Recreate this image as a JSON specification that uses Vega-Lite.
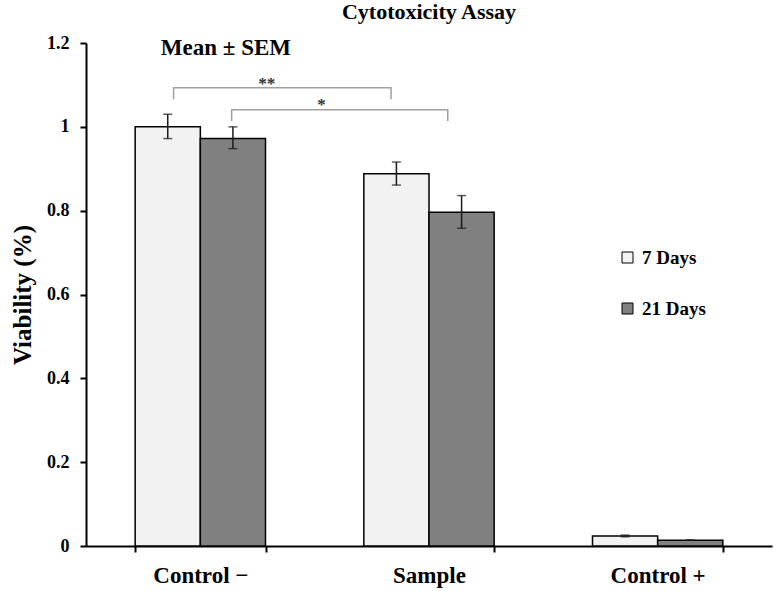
{
  "$schema": "https://vega.github.io/schema/vega-lite/v6.json",
  "width": 686,
  "height": 503,
  "autosize": {"type": "none"},
  "padding": {"left": 86, "top": 43, "right": 2, "bottom": 45},
  "background": "white",
  "title": {"text": "Cytotoxicity Assay", "font": "Liberation Serif", "fontSize": 22, "fontWeight": "bold", "color": "black", "anchor": "middle", "offset": 10},
  "config": {
    "view": {"stroke": null},
    "axis": {"grid": false, "domainColor": "black", "tickColor": "black", "labelColor": "black", "titleColor": "black", "labelFont": "Liberation Serif", "titleFont": "Liberation Serif", "labelFontWeight": "bold", "titleFontWeight": "bold"}
  },
  "datasets": {
    "bars": [
      {"group": "Control −", "series": "7 Days", "value": 1.0, "lo": 0.972, "hi": 1.03},
      {"group": "Control −", "series": "21 Days", "value": 0.972, "lo": 0.948, "hi": 1.0},
      {"group": "Sample", "series": "7 Days", "value": 0.888, "lo": 0.861, "hi": 0.916},
      {"group": "Sample", "series": "21 Days", "value": 0.796, "lo": 0.758, "hi": 0.836},
      {"group": "Control +", "series": "7 Days", "value": 0.024, "lo": 0.022, "hi": 0.026},
      {"group": "Control +", "series": "21 Days", "value": 0.014, "lo": 0.014, "hi": 0.014}
    ],
    "brackets": [
      {"b": "p1", "o": 1, "x": 0.383, "y": 1.066},
      {"b": "p1", "o": 2, "x": 0.383, "y": 1.093},
      {"b": "p1", "o": 3, "x": 1.334, "y": 1.093},
      {"b": "p1", "o": 4, "x": 1.334, "y": 1.066},
      {"b": "p2", "o": 1, "x": 0.637, "y": 1.014},
      {"b": "p2", "o": 2, "x": 0.637, "y": 1.041},
      {"b": "p2", "o": 3, "x": 1.582, "y": 1.041},
      {"b": "p2", "o": 4, "x": 1.582, "y": 1.014}
    ],
    "stars": [
      {"t": "**", "x": 0.79, "y": 1.103},
      {"t": "*", "x": 1.03, "y": 1.051}
    ],
    "note": [
      {"t": "Mean ± SEM", "x": 0.612, "y": 1.187}
    ]
  },
  "layer": [
    {
      "data": {"name": "bars"},
      "encoding": {
        "x": {
          "field": "group", "type": "nominal", "sort": ["Control −", "Sample", "Control +"],
          "scale": {"paddingInner": 0.43, "paddingOuter": 0.215},
          "axis": {"title": null, "tickBand": "extent", "domainWidth": 2, "tickWidth": 2, "tickSize": 6, "labelFontSize": 23, "labelPadding": 12, "labelAngle": 0}
        },
        "xOffset": {"field": "series", "type": "nominal", "sort": ["7 Days", "21 Days"], "scale": {"paddingInner": 0, "paddingOuter": 0}}
      },
      "layer": [
        {
          "mark": {"type": "bar", "stroke": "black", "strokeWidth": 1.5},
          "encoding": {
            "y": {
              "field": "value", "type": "quantitative",
              "scale": {"domain": [0, 1.2], "nice": false},
              "axis": {"title": "Viability (%)", "values": [0, 0.2, 0.4, 0.6, 0.8, 1, 1.2], "format": "~g", "domainWidth": 2, "tickWidth": 2, "tickSize": 6, "labelFontSize": 18, "labelPadding": 11, "titleFontSize": 25, "titlePadding": 11}
            },
            "color": {
              "field": "series", "type": "nominal",
              "scale": {"domain": ["7 Days", "21 Days"], "range": ["#f2f2f2", "#808080"]},
              "legend": {"orient": "none", "legendX": 532, "legendY": 205, "title": null, "symbolType": "square", "symbolSize": 121, "symbolStrokeColor": "black", "symbolStrokeWidth": 1, "labelFont": "Liberation Serif", "labelFontSize": 19, "labelFontWeight": "bold", "labelColor": "black", "rowPadding": 31, "labelOffset": 5}
            }
          }
        },
        {
          "mark": {"type": "rule", "color": "#1a1a1a", "strokeWidth": 1.5},
          "encoding": {
            "y": {"field": "lo", "type": "quantitative", "title": "Viability (%)", "scale": {"domain": [0, 1.2], "nice": false}},
            "y2": {"field": "hi"}
          }
        },
        {
          "mark": {"type": "tick", "color": "#1a1a1a", "size": 9, "thickness": 1.5, "orient": "horizontal"},
          "encoding": {
            "y": {"field": "lo", "type": "quantitative", "title": "Viability (%)", "scale": {"domain": [0, 1.2], "nice": false}}
          }
        },
        {
          "mark": {"type": "tick", "color": "#1a1a1a", "size": 9, "thickness": 1.5, "orient": "horizontal"},
          "encoding": {
            "y": {"field": "hi", "type": "quantitative", "title": "Viability (%)", "scale": {"domain": [0, 1.2], "nice": false}}
          }
        }
      ]
    },
    {
      "layer": [
        {
          "data": {"name": "brackets"},
          "mark": {"type": "line", "color": "#a0a0a0", "strokeWidth": 1.5},
          "encoding": {
            "x": {"field": "x", "type": "quantitative", "scale": {"domain": [0, 3], "nice": false, "zero": false}, "axis": null},
            "y": {"field": "y", "type": "quantitative", "title": "Viability (%)", "scale": {"domain": [0, 1.2], "nice": false}},
            "detail": {"field": "b"},
            "order": {"field": "o"}
          }
        },
        {
          "data": {"name": "stars"},
          "mark": {"type": "text", "font": "Liberation Serif", "fontWeight": "bold", "fontSize": 17, "color": "#333333", "baseline": "middle"},
          "encoding": {
            "x": {"field": "x", "type": "quantitative", "scale": {"domain": [0, 3], "nice": false, "zero": false}, "axis": null},
            "y": {"field": "y", "type": "quantitative", "title": "Viability (%)", "scale": {"domain": [0, 1.2], "nice": false}},
            "text": {"field": "t"}
          }
        },
        {
          "data": {"name": "note"},
          "mark": {"type": "text", "font": "Liberation Serif", "fontWeight": "bold", "fontSize": 23, "color": "black", "baseline": "middle"},
          "encoding": {
            "x": {"field": "x", "type": "quantitative", "scale": {"domain": [0, 3], "nice": false, "zero": false}, "axis": null},
            "y": {"field": "y", "type": "quantitative", "title": "Viability (%)", "scale": {"domain": [0, 1.2], "nice": false}},
            "text": {"field": "t"}
          }
        }
      ]
    }
  ],
  "resolve": {"scale": {"x": "independent"}, "axis": {"x": "independent"}}
}
